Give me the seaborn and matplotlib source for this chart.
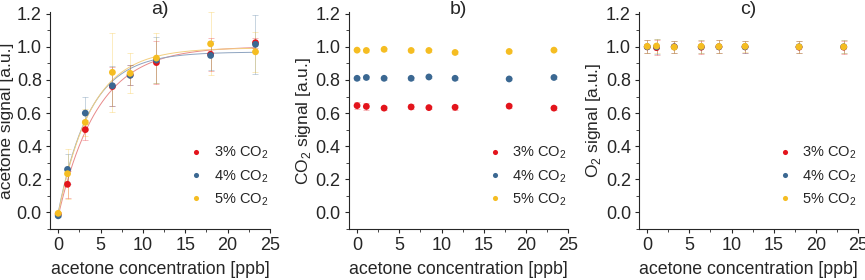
import numpy as np
import pandas as pd
import matplotlib.pyplot as plt
import seaborn as sns
from matplotlib.ticker import MultipleLocator

# ==============================
# DATA
# ==============================
conc = [0.0, 1.1, 3.2, 6.4, 8.5, 11.6, 18.0, 23.3]
series = ["3% CO$_2$", "4% CO$_2$", "5% CO$_2$"]

# a) acetone signal
ace_3 = [-0.01, 0.17, 0.50, 0.76, 0.83, 0.905, 0.955, 1.025]
ace_4 = [-0.02, 0.26, 0.60, 0.765, 0.828, 0.92, 0.948, 1.015]
ace_5 = [-0.005, 0.234, 0.544, 0.846, 0.84, 0.932, 1.018, 0.97]
ace_3_err = [0.01, 0.08, 0.06, 0.12, 0.06, 0.13, 0.10, 0.03]
ace_4_err = [0.01, 0.09, 0.10, 0.12, 0.06, 0.14, 0.09, 0.18]
ace_5_err = [0.01, 0.15, 0.08, 0.24, 0.12, 0.15, 0.19, 0.12]

# b) CO2 signal
co2_3 = [0.645, 0.64, 0.63, 0.637, 0.633, 0.635, 0.642, 0.63]
co2_4 = [0.81, 0.815, 0.81, 0.81, 0.818, 0.81, 0.806, 0.815]
co2_5 = [0.98, 0.978, 0.985, 0.978, 0.978, 0.966, 0.972, 0.98]
co2_3_err = [0.02, 0.02, 0.012, 0.015, 0.01, 0.015, 0.012, 0.01]
co2_4_err = [0.008, 0.008, 0.008, 0.008, 0.008, 0.008, 0.008, 0.008]
co2_5_err = [0.008, 0.008, 0.008, 0.008, 0.008, 0.008, 0.008, 0.008]

# c) O2 signal
o2_3 = [1.0, 0.995, 1.0, 0.998, 1.0, 1.0, 0.998, 0.998]
o2_4 = [1.0, 1.0, 1.0, 1.0, 1.0, 1.0, 1.0, 1.0]
o2_5 = [1.003, 1.005, 0.998, 1.003, 1.002, 1.003, 1.0, 1.0]
o2_err = [0.04, 0.045, 0.035, 0.04, 0.04, 0.035, 0.035, 0.04]

colors = ["#e3141c", "#3b6892", "#f5bd22"]
fit_colors = ["#e88a8a", "#8ea4c0", "#f3cf80"]

sns.set_style("ticks")
plt.rcParams["font.family"] = ["Liberation Sans", "DejaVu Sans"]
plt.rcParams["mathtext.fontset"] = "custom"
plt.rcParams["mathtext.rm"] = "Liberation Sans"


def fit_sat(x, y):
    # y = A*(1-exp(-x/t)) + c, small grid search
    x = np.asarray(x)
    y = np.asarray(y)
    best = None
    for t in np.linspace(1.5, 10, 171):
        basis = 1 - np.exp(-x / t)
        M = np.column_stack([basis, np.ones_like(x)])
        coef, *_ = np.linalg.lstsq(M, y, rcond=None)
        r = np.sum((M @ coef - y) ** 2)
        if best is None or r < best[0]:
            best = (r, t, coef)
    _, t, coef = best
    return lambda xx: coef[0] * (1 - np.exp(-xx / t)) + coef[1]


def long_df(y_lists, err_lists):
    rows = []
    for name, ys, es in zip(series, y_lists, err_lists):
        for x, y, e in zip(conc, ys, es):
            rows.append({"conc": x, "signal": y, "err": e, "series": name})
    return pd.DataFrame(rows)


fig = plt.figure(figsize=(8.65, 2.8), dpi=100)
ax_a = fig.add_axes([0.058, 0.182, 0.254, 0.775])
ax_b = fig.add_axes([0.4035, 0.182, 0.2535, 0.775])
ax_c = fig.add_axes([0.739, 0.182, 0.253, 0.775])

panels = [
    (ax_a, [ace_3, ace_4, ace_5], [ace_3_err, ace_4_err, ace_5_err],
     "acetone signal [a.u.]", "a)"),
    (ax_b, [co2_3, co2_4, co2_5], [co2_3_err, co2_4_err, co2_5_err],
     "CO$_2$ signal [a.u.]", "b)"),
    (ax_c, [o2_3, o2_4, o2_5], [o2_err, o2_err, o2_err],
     "O$_2$ signal [a.u.]", "c)"),
]

for ax, ys, errs, ylab, tag in panels:
    df = long_df(ys, errs)

    # fit curves only on acetone panel
    if ax is ax_a:
        xx = np.linspace(0, 23.3, 200)
        for name, y, fc in zip(series, ys, fit_colors):
            f = fit_sat(conc, y)
            sns.lineplot(x=xx, y=f(xx), ax=ax, color=fc, lw=0.7, zorder=1)

    for name, c in zip(series, colors):
        sub = df[df["series"] == name]
        ax.errorbar(sub["conc"], sub["signal"], yerr=sub["err"], fmt="none",
                    ecolor=c, elinewidth=0.5, capsize=2, capthick=0.5,
                    alpha=0.4, zorder=2)

    sns.scatterplot(data=df, x="conc", y="signal", hue="series",
                    palette=colors, s=24, edgecolor="none", ax=ax, zorder=3)

    ax.set_xlim(-0.95, 25)
    ax.set_ylim(-0.1, 1.21)
    ax.xaxis.set_major_locator(MultipleLocator(5))
    ax.xaxis.set_minor_locator(MultipleLocator(2.5))
    ax.yaxis.set_major_locator(MultipleLocator(0.2))
    ax.yaxis.set_minor_locator(MultipleLocator(0.1))
    ax.tick_params(which="major", length=3, width=0.8, labelsize=13, pad=3)
    ax.tick_params(which="minor", length=2, width=0.6)
    ax.set_xlabel("acetone concentration [ppb]", fontsize=12.8, labelpad=5)
    ax.set_ylabel(ylab, fontsize=12.5, labelpad=2)
    ax.text(0.5, 1.012, tag, transform=ax.transAxes, ha="center",
            va="center", fontsize=14)
    sns.despine(ax=ax)

    leg = ax.legend(loc="lower right", bbox_to_anchor=(1.02, 0.07),
                    frameon=False, fontsize=10.5, handletextpad=0.2,
                    markerscale=0.75, labelspacing=0.45, borderaxespad=0)

fig.savefig("out.png", dpi=100)
